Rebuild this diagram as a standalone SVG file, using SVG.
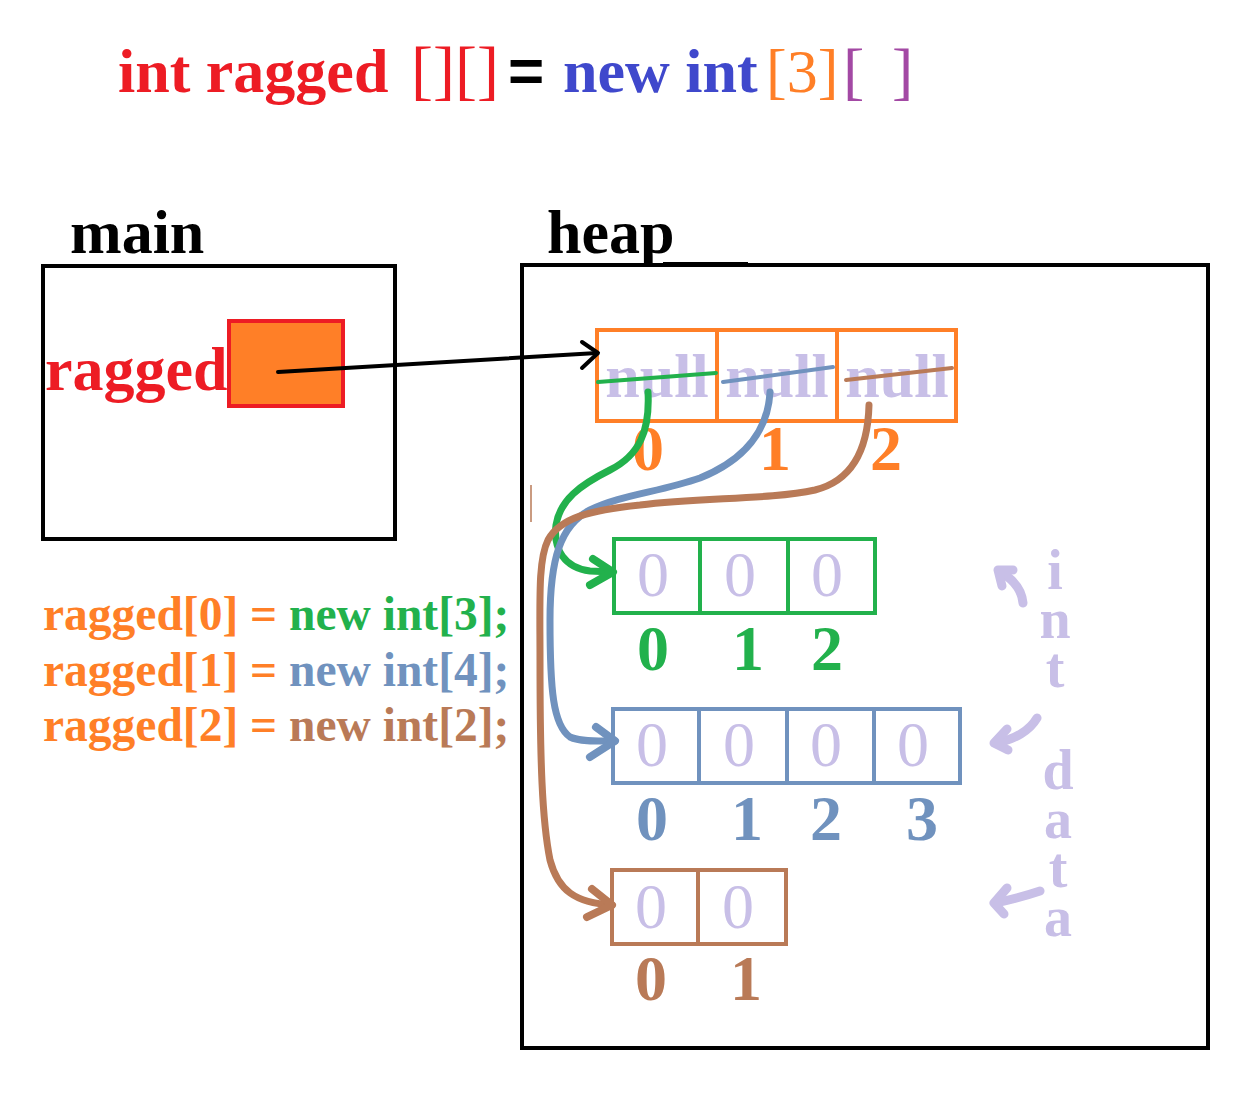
<svg xmlns="http://www.w3.org/2000/svg" width="1246" height="1104" viewBox="0 0 1246 1104">
<style>
.sb{font-family:"Liberation Serif","Times New Roman",serif;font-weight:bold}
.sr{font-family:"Liberation Serif","Times New Roman",serif;font-weight:normal}
.box{fill:none;stroke:#000;stroke-width:4}
.lav{fill:#c8bfe7}
.cell0{font-family:"Liberation Serif","Times New Roman",serif;font-size:64px;fill:#c8bfe7;text-anchor:middle}
.idx{font-family:"Liberation Serif","Times New Roman",serif;font-weight:bold;font-size:64px;text-anchor:middle}
.curve{fill:none;stroke-linecap:round;stroke-linejoin:round}
.vert{writing-mode:vertical-rl;text-orientation:upright;letter-spacing:-13px}
</style>
<rect width="1246" height="1104" fill="#fff"/>
<g id="title">
<text y="92" font-size="62">
<tspan class="sb" x="118" fill="#ed1c24">int ragged</tspan>
<tspan class="sr" x="411" fill="#ed1c24" font-size="66">[][]</tspan>
<tspan x="508" fill="#000" font-family="Liberation Sans, Arial, sans-serif" font-weight="bold">=</tspan>
<tspan class="sb" x="563" fill="#3f48cc">new int</tspan>
<tspan class="sr" x="766" fill="#ff7f27" font-size="62">[3]</tspan>
<tspan class="sr" x="843" fill="#a349a4" font-size="64">[</tspan>
<tspan class="sr" x="892" fill="#a349a4" font-size="64">]</tspan>
</text>
</g>
<g id="main">
<text class="sb" x="70" y="253" font-size="62" fill="#000">main</text>
<rect class="box" x="43" y="266" width="352" height="273"/>
<text class="sb" x="45" y="390" font-size="62" fill="#ed1c24">ragged</text>
<rect x="229" y="321" width="114" height="85" fill="#ff7f27" stroke="#ed1c24" stroke-width="4"/>
</g>
<g id="heap">
<text class="sb" x="547" y="253" font-size="62" fill="#000">heap</text>
<rect class="box" x="522" y="265" width="686" height="783"/>
<line x1="663" y1="264" x2="748" y2="264" stroke="#000" stroke-width="4"/>
<line x1="531" y1="485" x2="531" y2="522" stroke="#b97a57" stroke-width="1.5"/>
</g>
<g id="outer-array">
<rect x="597" y="330" width="359" height="91" fill="none" stroke="#ff7f27" stroke-width="4"/>
<line x1="717" y1="330" x2="717" y2="421" stroke="#ff7f27" stroke-width="4"/>
<line x1="837" y1="330" x2="837" y2="421" stroke="#ff7f27" stroke-width="4"/>
<text class="sb lav" x="657" y="397" font-size="62" text-anchor="middle">null</text>
<text class="sb lav" x="777" y="397" font-size="62" text-anchor="middle">null</text>
<text class="sb lav" x="897" y="397" font-size="62" text-anchor="middle">null</text>
<line x1="598" y1="382" x2="716" y2="373" stroke="#22b14c" stroke-width="4" stroke-linecap="round"/>
<line x1="723" y1="382" x2="833" y2="367" stroke="#7092be" stroke-width="4" stroke-linecap="round"/>
<line x1="846" y1="380" x2="952" y2="368" stroke="#b97a57" stroke-width="4" stroke-linecap="round"/>
<text class="idx" y="470" fill="#ff7f27"><tspan x="648">0</tspan><tspan x="775">1</tspan><tspan x="886">2</tspan></text>
</g>
<g id="array-0">
<rect x="614" y="539" width="261" height="74" fill="none" stroke="#22b14c" stroke-width="4"/>
<line x1="700" y1="539" x2="700" y2="613" stroke="#22b14c" stroke-width="4"/>
<line x1="788" y1="539" x2="788" y2="613" stroke="#22b14c" stroke-width="4"/>
<text class="cell0" y="596"><tspan x="653">0</tspan><tspan x="740">0</tspan><tspan x="827">0</tspan></text>
<text class="idx" y="670" fill="#22b14c"><tspan x="653">0</tspan><tspan x="748">1</tspan><tspan x="827">2</tspan></text>
</g>
<g id="array-1">
<rect x="613" y="709" width="347" height="74" fill="none" stroke="#7092be" stroke-width="4"/>
<line x1="699" y1="709" x2="699" y2="783" stroke="#7092be" stroke-width="4"/>
<line x1="787" y1="709" x2="787" y2="783" stroke="#7092be" stroke-width="4"/>
<line x1="874" y1="709" x2="874" y2="783" stroke="#7092be" stroke-width="4"/>
<text class="cell0" y="766"><tspan x="652">0</tspan><tspan x="739">0</tspan><tspan x="826">0</tspan><tspan x="913">0</tspan></text>
<text class="idx" y="840" fill="#7092be"><tspan x="652">0</tspan><tspan x="747">1</tspan><tspan x="826">2</tspan><tspan x="922">3</tspan></text>
</g>
<g id="array-2">
<rect x="612" y="870" width="174" height="74" fill="none" stroke="#b97a57" stroke-width="4"/>
<line x1="698" y1="870" x2="698" y2="944" stroke="#b97a57" stroke-width="4"/>
<text class="cell0" y="928"><tspan x="651">0</tspan><tspan x="738">0</tspan></text>
<text class="idx" y="1000" fill="#b97a57"><tspan x="651">0</tspan><tspan x="746">1</tspan></text>
</g>
<g id="code">
<text class="sb" x="43" y="630" font-size="47.5"><tspan fill="#ff7f27">ragged[0] = </tspan><tspan fill="#22b14c">new int[3];</tspan></text>
<text class="sb" x="43" y="686" font-size="47.5"><tspan fill="#ff7f27">ragged[1] = </tspan><tspan fill="#7092be">new int[4];</tspan></text>
<text class="sb" x="43" y="741" font-size="47.5"><tspan fill="#ff7f27">ragged[2] = </tspan><tspan fill="#b97a57">new int[2];</tspan></text>
</g>
<g id="int-data">
<text class="sb lav vert" x="1055" y="539" font-size="56">int</text>
<text class="sb lav vert" x="1058" y="739" font-size="56">data</text>
</g>
<g id="connectors">
<line x1="278" y1="372" x2="597" y2="353" stroke="#000" stroke-width="4" stroke-linecap="round"/>
<path d="M582,342 L598,353 L582,368" fill="none" stroke="#000" stroke-width="4" stroke-linecap="round" stroke-linejoin="round"/>
<path class="curve" stroke="#22b14c" stroke-width="7" d="M648,392 C650,430 640,455 610,470 C580,485 560,500 556,525 C553,550 565,568 590,571 L612,572"/>
<path class="curve" stroke="#22b14c" stroke-width="8" d="M593,559 L613,572 L590,585"/>
<path class="curve" stroke="#7092be" stroke-width="7" d="M770,392 C768,430 745,460 700,478 C660,492 620,495 590,510 C560,525 550,560 550,620 C550,690 553,725 570,737 C580,742 600,741 615,741"/>
<path class="curve" stroke="#7092be" stroke-width="8" d="M596,727 L615,741 L590,757"/>
<path class="curve" stroke="#b97a57" stroke-width="7" d="M869,405 C868,445 855,480 815,490 C770,500 700,497 640,505 C590,510 560,518 548,540 C538,560 540,600 540,660 C540,760 542,820 550,860 C558,890 575,903 612,905"/>
<path class="curve" stroke="#b97a57" stroke-width="8" d="M592,889 L612,905 L587,917"/>
<path class="curve" stroke="#c8bfe7" stroke-width="9" d="M1023,603 C1022,592 1015,580 999,571"/>
<path class="curve" stroke="#c8bfe7" stroke-width="9" d="M1013,570 L998,570 L1002,586"/>
<path class="curve" stroke="#c8bfe7" stroke-width="9" d="M1037,718 C1030,730 1015,740 995,743"/>
<path class="curve" stroke="#c8bfe7" stroke-width="9" d="M1007,729 L994,743 L1008,750"/>
<path class="curve" stroke="#c8bfe7" stroke-width="9" d="M1040,891 C1025,896 1010,900 995,903"/>
<path class="curve" stroke="#c8bfe7" stroke-width="9" d="M1007,888 L994,903 L1004,914"/>
</g>
</svg>
